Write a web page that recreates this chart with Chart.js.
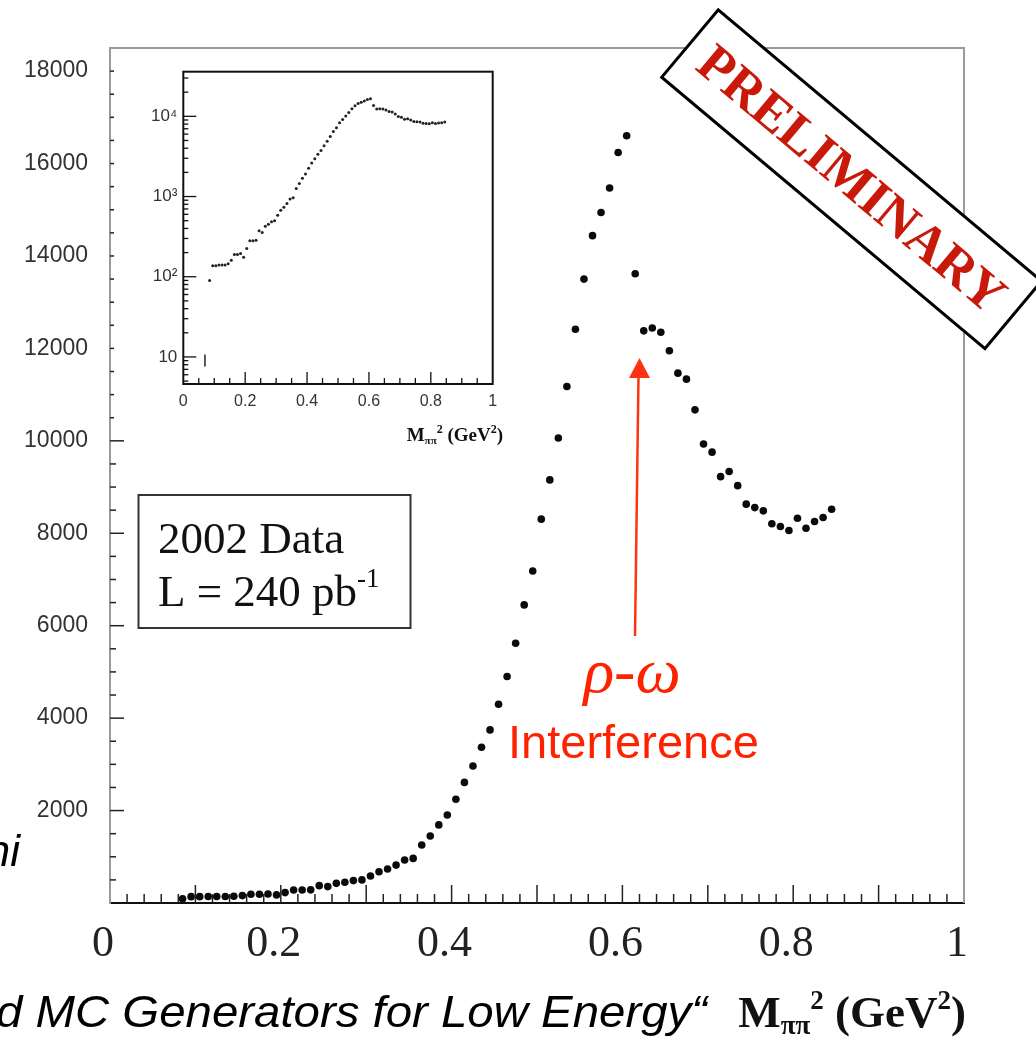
<!DOCTYPE html>
<html>
<head>
<meta charset="utf-8">
<script src="https://cdn.jsdelivr.net/npm/chart.js@4/dist/chart.umd.min.js"></script>
<style>
html,body{margin:0;padding:0;background:#fff;overflow:hidden;}
#wrap{position:relative;width:1036px;height:1039px;}
#main{position:absolute;left:0;top:0;}
#inset{position:absolute;left:114px;top:51px;}
</style>
</head>
<body>
<div id="wrap">
<canvas id="main" width="1036" height="1039" style="width:1036px;height:1039px"></canvas>
<canvas id="inset" width="400" height="400" style="width:400px;height:400px"></canvas>
</div>
<script>
// ---- data ----
const massSq = [0.085,0.095,0.105,0.115,0.125,0.135,0.145,0.155,0.165,0.175,
  0.185,0.195,0.205,0.215,0.225,0.235,0.245,0.255,0.265,0.275,
  0.285,0.295,0.305,0.315,0.325,0.335,0.345,0.355,0.365,0.375,
  0.385,0.395,0.405,0.415,0.425,0.435,0.445,0.455,0.465,0.475,
  0.485,0.495,0.505,0.515,0.525,0.535,0.545,0.555,0.565,0.575,
  0.585,0.595,0.605,0.615,0.625,0.635,0.645,0.655,0.665,0.675,
  0.685,0.695,0.705,0.715,0.725,0.735,0.745,0.755,0.765,0.775,
  0.785,0.795,0.805,0.815,0.825,0.835,0.845];
const events = [90,137,137,140,140,140,145,160,190,190,
  195,175,225,280,280,285,375,355,425,450,
  485,500,585,675,735,820,930,965,1255,1450,
  1690,1905,2245,2610,2965,3370,3745,4300,4900,5620,
  6450,7185,8305,9155,10060,11175,12415,13500,14440,14940,
  15470,16240,16600,13615,12380,12440,12350,11950,11465,11335,
  10670,9930,9755,9225,9335,9030,8630,8555,8485,8205,
  8145,8060,8325,8110,8255,8340,8520];
const insetExtraX = [0.07];
const insetExtraY = [9];
const xTickLabels = ['0','0.2','0.4','0.6','0.8','1'];
const yTickValues = [2000,4000,6000,8000,10000,12000,14000,16000,18000];
const insetYTicks = [10,100,1000,10000];
const insetYLabels = ['10','10\u00B2','10\u00B3','10\u2074'];
const insetXLabels = ['0','0.2','0.4','0.6','0.8','1'];

const SERIF = '"Liberation Serif","Times New Roman",serif';
const SANS = '"Liberation Sans",Arial,sans-serif';

function rich(ctx, x, y, parts, align){
  let w = 0;
  parts.forEach(p => { ctx.font = p.font; p.w = ctx.measureText(p.t).width; w += p.w; });
  let cx = align === 'right' ? x - w : (align === 'center' ? x - w/2 : x);
  ctx.textAlign = 'left';
  parts.forEach(p => { ctx.font = p.font; ctx.fillText(p.t, cx, y + (p.dy || 0)); cx += p.w; });
}
function seg(ctx,x1,y1,x2,y2){ctx.beginPath();ctx.moveTo(x1,y1);ctx.lineTo(x2,y2);ctx.stroke();}
function fitText(ctx, txt, left, right, y){
  const w = ctx.measureText(txt).width;
  ctx.save(); ctx.translate(left, y); ctx.scale((right-left)/w, 1);
  ctx.textAlign = 'left'; ctx.fillText(txt, 0, 0); ctx.restore();
}

const pts = massSq.map((x,i)=>({x:x, y:events[i]}));

const mainDecor = {
  id:'mainDecor',
  afterDraw(chart){
    const ctx = chart.ctx, a = chart.chartArea, xs = chart.scales.x, ys = chart.scales.y;
    ctx.save();
    // frame top/right
    ctx.strokeStyle = '#9a9a9a'; ctx.lineWidth = 2;
    ctx.beginPath(); ctx.moveTo(a.left, a.top); ctx.lineTo(a.right, a.top); ctx.lineTo(a.right, a.bottom); ctx.stroke();
    // y tick labels (positioned by the y scale)
    ctx.fillStyle = '#333'; ctx.font = '23px ' + SANS;
    ctx.textAlign = 'right'; ctx.textBaseline = 'middle';
    yTickValues.forEach(v => ctx.fillText(String(v), a.left - 22, ys.getPixelForValue(v)));
    // y ticks
    ctx.strokeStyle = '#222'; ctx.lineWidth = 1.5;
    for (let v = 500; v <= 18000; v += 500){
      const py = ys.getPixelForValue(v);
      const len = (v % 2000 === 0) ? 14 : 6;
      seg(ctx, a.left, py, a.left + len, py);
    }
    // x ticks
    for (let i = 1; i < 50; i++){
      const px = xs.getPixelForValue(i*0.02);
      const len = (i % 5 === 0) ? 18 : 9;
      seg(ctx, px, a.bottom, px, a.bottom - len);
    }
    // data box
    ctx.strokeStyle = '#333'; ctx.lineWidth = 2;
    ctx.strokeRect(138.5, 495, 272, 133);
    ctx.fillStyle = '#111'; ctx.textBaseline = 'alphabetic';
    ctx.font = '45px ' + SERIF; ctx.textAlign = 'left';
    ctx.fillText('2002 Data', 158, 553);
    rich(ctx, 158, 606, [
      {t:'L = 240 pb', font:'45px ' + SERIF},
      {t:'-1', font:'27px ' + SERIF, dy:-19}
    ], 'left');
    // arrow
    ctx.strokeStyle = '#ff3311'; ctx.fillStyle = '#ff3311'; ctx.lineWidth = 2.5;
    seg(ctx, 635, 636, 638.5, 376);
    ctx.beginPath(); ctx.moveTo(639.5, 358); ctx.lineTo(629, 378); ctx.lineTo(650, 378); ctx.closePath(); ctx.fill();
    // rho-omega
    ctx.fillStyle = '#ff2200';
    ctx.font = 'italic 64px ' + SERIF; ctx.textAlign = 'center';
    ctx.fillText('\u03C1-\u03C9', 632, 692);
    ctx.font = '47px ' + SANS; ctx.textAlign = 'left';
    ctx.fillText('Interference', 508, 758);
    // slide texts
    ctx.fillStyle = '#000';
    ctx.font = 'italic 44px ' + SANS;
    fitText(ctx, 'd MC Generators for Low Energy\u201C', -4, 707, 1027);
    ctx.textAlign = 'right';
    ctx.fillText('hi', 20, 866);
    // axis title
    ctx.fillStyle = '#111';
    rich(ctx, 966, 1027, [
      {t:'M', font:'bold 45px ' + SERIF},
      {t:'\u03C0\u03C0', font:'bold 27px ' + SERIF, dy:7},
      {t:'2', font:'bold 27px ' + SERIF, dy:-18},
      {t:' (GeV', font:'bold 45px ' + SERIF},
      {t:'2', font:'bold 27px ' + SERIF, dy:-18},
      {t:')', font:'bold 45px ' + SERIF}
    ], 'right');
    // PRELIMINARY stamp
    ctx.translate(851.6, 179.2);
    ctx.rotate(40 * Math.PI / 180);
    ctx.fillStyle = '#fff'; ctx.fillRect(-211, -44, 422, 88);
    ctx.strokeStyle = '#000'; ctx.lineWidth = 3; ctx.strokeRect(-211, -44, 422, 88);
    ctx.fillStyle = '#c8190b'; ctx.font = 'bold 53px ' + SERIF;
    ctx.textAlign = 'center'; ctx.textBaseline = 'middle';
    ctx.fillText('PRELIMINARY', 0, 3);
    ctx.restore();
  }
};

new Chart(document.getElementById('main'), {
  type: 'scatter',
  data: { datasets: [{ data: pts, pointRadius: 3.8, pointHoverRadius: 3.8, backgroundColor: '#0a0a0a', borderWidth: 0 }] },
  options: {
    responsive: false, animation: false, devicePixelRatio: 1,
    layout: { padding: { left: 0, right: 72, top: 48, bottom: 0 } },
    plugins: { legend: { display: false }, tooltip: { enabled: false } },
    scales: {
      x: {
        type: 'linear', min: 0, max: 1,
        grid: { display: false, drawTicks: false }, border: { display: true, color: '#111', width: 2 },
        ticks: { stepSize: 0.2, autoSkip: false, maxRotation: 0, includeBounds: false,
          font: { family: 'Liberation Serif', size: 44 }, color: '#222', padding: 15, labelOffset: -7,
          callback: (v, i) => xTickLabels[i] },
        afterFit(s){ s.height = 136; }
      },
      y: {
        type: 'linear', min: 0, max: 18500, position: 'left',
        grid: { display: false, drawTicks: false }, border: { display: true, color: '#9a9a9a', width: 2 },
        ticks: { display: false, stepSize: 2000 },
        afterFit(s){ s.width = 110; }
      }
    }
  },
  plugins: [mainDecor]
});

// ---- inset ----
const insetDecor = {
  id:'insetDecor',
  beforeDraw(chart){
    const ctx = chart.ctx; ctx.save(); ctx.fillStyle = '#fff'; ctx.fillRect(0,0,chart.width,381); ctx.restore();
  },
  afterDraw(chart){
    const ctx = chart.ctx, a = chart.chartArea, xs = chart.scales.x, ys = chart.scales.y;
    ctx.save();
    ctx.strokeStyle = '#111'; ctx.lineWidth = 2;
    ctx.strokeRect(a.left, a.top, a.right - a.left, a.bottom - a.top);
    ctx.lineWidth = 1.3;
    for (let d = 1; d <= 10000; d *= 10){
      for (let k = 1; k <= 9; k++){
        const v = d * k;
        if (v < ys.min || v > ys.max) continue;
        const py = ys.getPixelForValue(v);
        seg(ctx, a.left, py, a.left + (k === 1 ? 13 : 5), py);
      }
    }
    for (let i = 1; i < 20; i++){
      const px = xs.getPixelForValue(i*0.05);
      seg(ctx, px, a.bottom, px, a.bottom - (i % 4 === 0 ? 12 : 6));
    }
    ctx.fillStyle = '#111'; ctx.textBaseline = 'alphabetic';
    rich(ctx, 389, 390, [
      {t:'M', font:'bold 19px ' + SERIF},
      {t:'\u03C0\u03C0', font:'bold 11px ' + SERIF, dy:3},
      {t:'2', font:'bold 12px ' + SERIF, dy:-8},
      {t:' (GeV', font:'bold 19px ' + SERIF},
      {t:'2', font:'bold 12px ' + SERIF, dy:-8},
      {t:')', font:'bold 19px ' + SERIF}
    ], 'right');
    ctx.restore();
  }
};

new Chart(document.getElementById('inset'), {
  type: 'scatter',
  data: { datasets: [
    { data: pts, pointRadius: 1.5, pointHoverRadius: 1.5, backgroundColor: '#222', borderWidth: 0 },
    { data: insetExtraX.map((x,i)=>({x:x, y:insetExtraY[i]})), pointStyle: 'line', rotation: 90, pointRadius: 6, borderColor: '#222', borderWidth: 1.5 }
  ] },
  options: {
    responsive: false, animation: false, devicePixelRatio: 1,
    layout: { padding: { left: 0, right: 21.3, top: 20.7, bottom: 0 } },
    plugins: { legend: { display: false }, tooltip: { enabled: false } },
    scales: {
      x: {
        type: 'linear', min: 0, max: 1,
        grid: { display: false, drawTicks: false }, border: { display: false },
        ticks: { stepSize: 0.2, autoSkip: false, maxRotation: 0, includeBounds: false,
          font: { family: 'Liberation Sans', size: 16 }, color: '#333', padding: 8,
          callback: (v, i) => insetXLabels[i] },
        afterFit(s){ s.height = 67; }
      },
      y: {
        type: 'logarithmic', min: 4.6, max: 36000,
        grid: { display: false, drawTicks: false }, border: { display: false },
        afterBuildTicks(s){ s.ticks = insetYTicks.map(v => ({ value: v })); },
        ticks: { autoSkip: false, font: { family: 'Liberation Sans', size: 17 }, color: '#333', padding: 6,
          callback: (v) => { const i = insetYTicks.indexOf(v); return i >= 0 ? insetYLabels[i] : ''; } },
        afterFit(s){ s.width = 69.3; }
      }
    }
  },
  plugins: [insetDecor]
});
</script>
</body>
</html>
